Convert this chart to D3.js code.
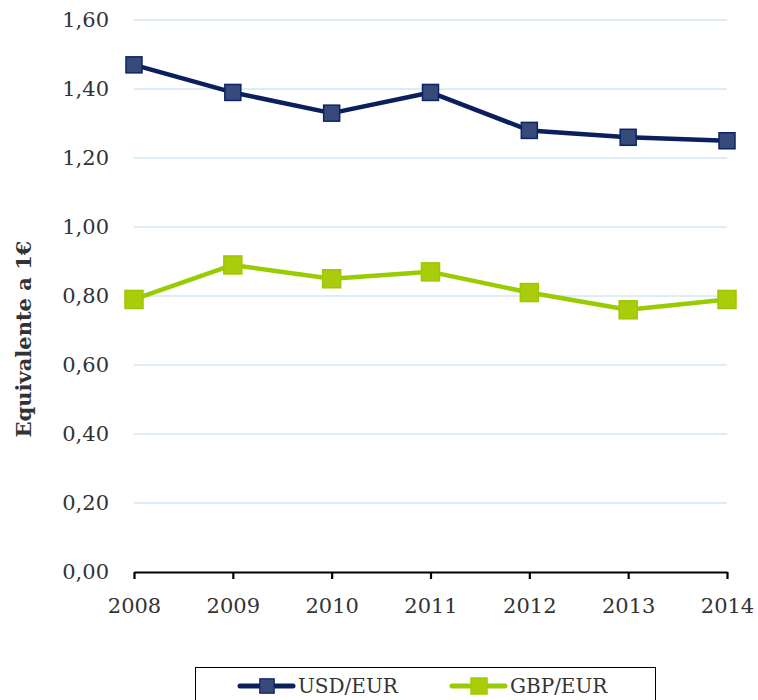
<!DOCTYPE html>
<html>
<head>
<meta charset="utf-8">
<script src="https://cdn.jsdelivr.net/npm/d3@7"></script>
<style>
  html, body { margin: 0; padding: 0; background: #fff; }
  svg text { font-family: "DejaVu Serif", "Liberation Serif", serif; fill: #333; }
</style>
</head>
<body>
<svg id="chart" width="758" height="700"></svg>
<script>
const years = ["2008", "2009", "2010", "2011", "2012", "2013", "2014"];
const usdEur = [1.47, 1.39, 1.33, 1.39, 1.28, 1.26, 1.25];
const gbpEur = [0.79, 0.89, 0.85, 0.87, 0.81, 0.76, 0.79];
const yTicks = [0, 0.2, 0.4, 0.6, 0.8, 1.0, 1.2, 1.4, 1.6];
const seriesNames = ["USD/EUR", "GBP/EUR"];
const yTitle = "Equivalente a 1€";

const series = [
  { name: seriesNames[0], values: usdEur, line: "#0a1f5c", fill: "#384a7a", stroke: "#0a2466", size: 16 },
  { name: seriesNames[1], values: gbpEur, line: "#99cc00", fill: "#aacc0a", stroke: "#9cc800", size: 18 }
];

const svg = d3.select("#chart");
const x = d3.scalePoint().domain(years).range([134, 727]);
const y = d3.scaleLinear().domain([0, 1.6]).range([572, 20]);
const fmt = v => d3.format(".2f")(v).replace(".", ",");

// gridlines
svg.append("g").selectAll("line").data(yTicks.filter(d => d > 0)).join("line")
  .attr("x1", 134).attr("x2", 727)
  .attr("y1", d => y(d)).attr("y2", d => y(d))
  .attr("stroke", "#dcedf7").attr("stroke-width", 2);

// y labels
svg.append("g").selectAll("text").data(yTicks).join("text")
  .attr("x", 109).attr("y", d => y(d)).attr("dy", "0.35em")
  .attr("text-anchor", "end").style("font-size", "21px")
  .text(fmt);

// x axis
const xAxis = d3.axisBottom(x).tickSize(7).tickSizeOuter(0).tickPadding(19);
const gx = svg.append("g").attr("transform", "translate(0,572)").call(xAxis);
gx.select(".domain").attr("stroke", "#000").attr("stroke-width", 2.2);
gx.selectAll(".tick line").attr("stroke", "#000").attr("stroke-width", 2.2);
gx.selectAll(".tick text").style("font-size", "21px").style("font-family", '"DejaVu Serif", serif').attr("fill", "#333");

// y title
svg.append("text")
  .attr("transform", "translate(31,339) rotate(-90)")
  .attr("text-anchor", "middle")
  .style("font-size", "21px").style("font-weight", "bold").attr("fill", "#222")
  .text(yTitle);

// lines
const line = d3.line().x((d, i) => x(years[i])).y(d => y(d));
series.forEach(s => {
  svg.append("path").datum(s.values)
    .attr("d", line).attr("fill", "none")
    .attr("stroke", s.line).attr("stroke-width", 4.5).attr("stroke-linejoin", "round");
  svg.append("g").selectAll("rect").data(s.values).join("rect")
    .attr("x", (d, i) => x(years[i]) - s.size / 2)
    .attr("y", d => y(d) - s.size / 2)
    .attr("width", s.size).attr("height", s.size)
    .attr("fill", s.fill).attr("stroke", s.stroke).attr("stroke-width", 1.5);
});

// legend
svg.append("rect").attr("x", 195.5).attr("y", 667.5).attr("width", 460).attr("height", 40)
  .attr("fill", "#fff").attr("stroke", "#000").attr("stroke-width", 1);
const legendX = [240, 452];
series.forEach((s, i) => {
  const g = svg.append("g").attr("transform", `translate(${legendX[i]},686)`);
  g.append("line").attr("x1", 0).attr("x2", 53).attr("y1", 0).attr("y2", 0)
    .attr("stroke", s.line).attr("stroke-width", 5).attr("stroke-linecap", "round");
  g.append("rect").attr("x", 27 - s.size * 0.45).attr("y", -s.size * 0.45)
    .attr("width", s.size * 0.9).attr("height", s.size * 0.9)
    .attr("fill", s.fill).attr("stroke", s.stroke).attr("stroke-width", 1.2);
  g.append("text").attr("x", 58).attr("y", 0).attr("dy", "0.35em")
    .style("font-size", "20px").text(s.name);
});
</script>
</body>
</html>
